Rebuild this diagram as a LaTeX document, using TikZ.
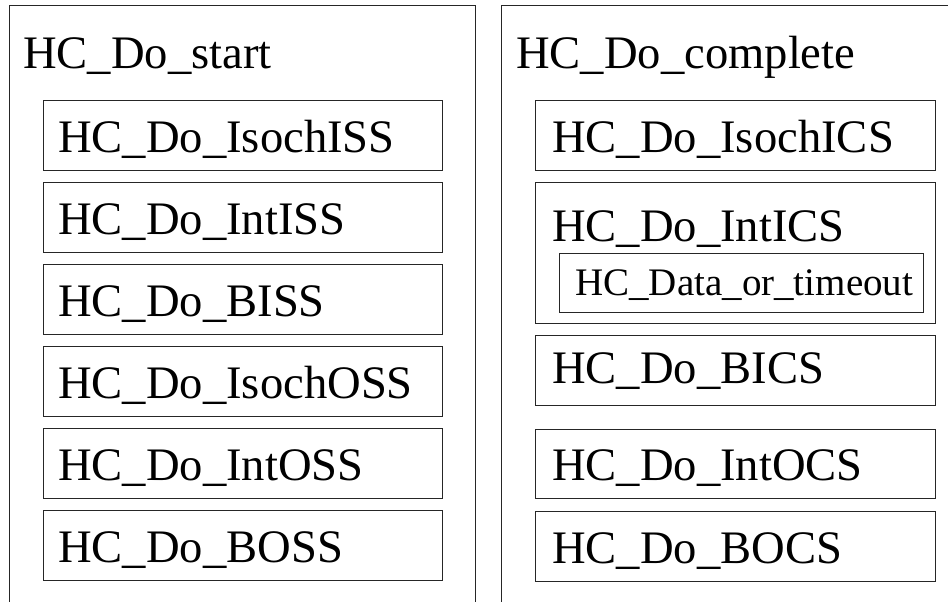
\documentclass[tikz,border=0pt]{standalone}
\usepackage{fontspec}
\setmainfont{Liberation Serif}
\begin{document}
\begin{tikzpicture}[x=1pt,y=-1pt,
  frame/.style={draw=black!85,line width=1pt},
  box/.style={frame,rectangle,inner sep=0pt,anchor=north west},
  big/.style={anchor=base west,inner sep=0pt,font=\fontsize{46.6}{50}\selectfont},
  small/.style={anchor=base west,inner sep=0pt,font=\fontsize{39}{42}\selectfont}]
\useasboundingbox (0,0) rectangle (948,602);
% outer frames
\coordinate (la) at (9,610);
\coordinate (lb) at (9,6);
\coordinate (lc) at (475,6);
\coordinate (ld) at (475,610);
\draw[frame] (la) -- (lb) -- (lc) -- (ld);
\coordinate (ra) at (501,610);
\coordinate (rb) at (501,6);
\coordinate (rc) at (952,6);
\coordinate (rd) at (952,610);
\draw[frame] (ra) -- (rb) -- (rc) -- (rd);
\node[big] (tstart) at (23,69) {HC\_Do\_start};
\node[big] (tcomplete) at (516,69) {HC\_Do\_complete};
% left boxes
\foreach \n/\t/\y in {b1/IsochISS/100, b2/IntISS/182, b3/BISS/264, b4/IsochOSS/346, b5/IntOSS/428, b6/BOSS/510} {
  \node[box,minimum width=399pt,minimum height=70pt] (\n) at (43,\y) {};
  \node[big] (\n t) at (58,\y+52) {HC\_Do\_\t};
}
% right boxes
\node[box,minimum width=400pt,minimum height=70pt] (c1) at (535,100) {};
\node[big] (c1t) at (552,152) {HC\_Do\_IsochICS};
\node[box,minimum width=400pt,minimum height=141pt] (c2) at (535,182) {};
\node[big] (c2t) at (552,241) {HC\_Do\_IntICS};
\node[box,minimum width=364pt,minimum height=59pt] (c2d) at (559,253) {};
\node[small] (c2dt) at (575,295) {HC\_Data\_or\_timeout};
\node[box,minimum width=400pt,minimum height=70pt] (c3) at (535,335) {};
\node[big] (c3t) at (552,383) {HC\_Do\_BICS};
\node[box,minimum width=400pt,minimum height=69pt] (c4) at (535,429) {};
\node[big] (c4t) at (552,480) {HC\_Do\_IntOCS};
\node[box,minimum width=400pt,minimum height=70pt] (c5) at (535,511) {};
\node[big] (c5t) at (552,563) {HC\_Do\_BOCS};
\end{tikzpicture}
\end{document}
